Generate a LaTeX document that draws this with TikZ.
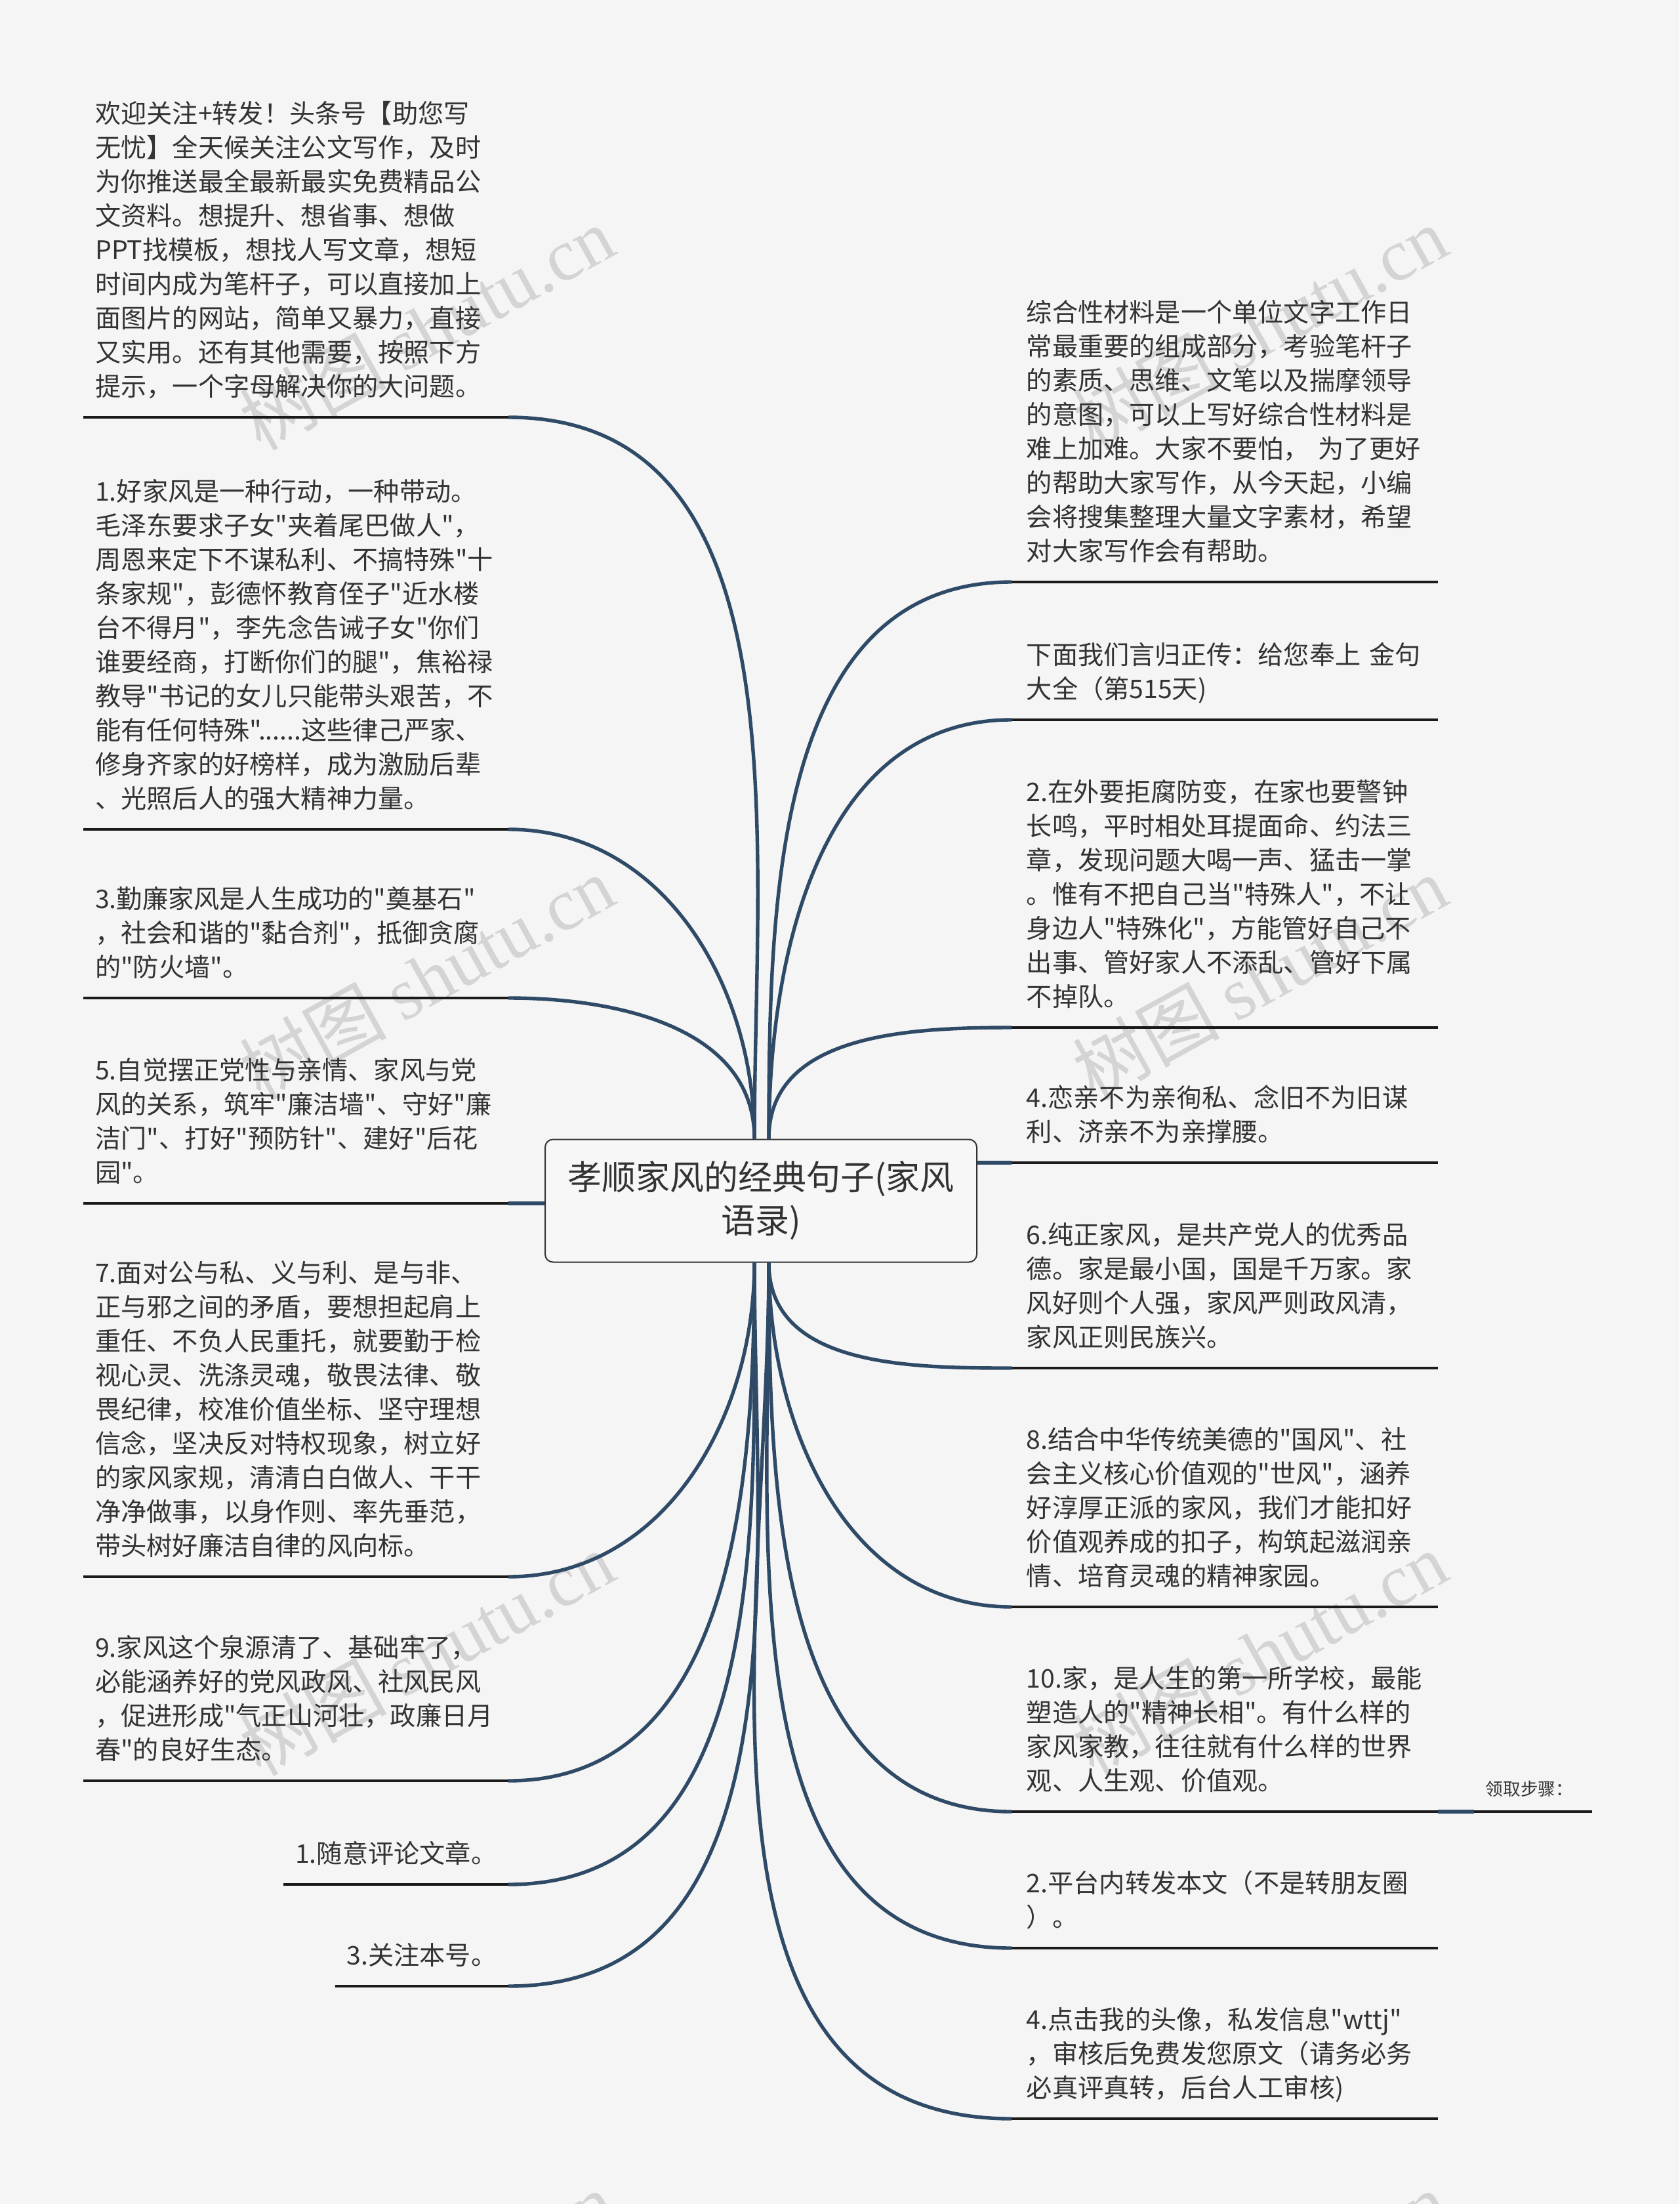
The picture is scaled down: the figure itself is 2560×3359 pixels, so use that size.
\documentclass[tikz,border=0pt]{standalone}
\usepackage{fontspec}
\setmainfont{Noto Sans CJK SC}[Ligatures=TeXOff]
\newfontfamily\wmfont{Liberation Serif}
\usetikzlibrary{calc}
\definecolor{xbg}{HTML}{F5F5F5}
\definecolor{xbox}{HTML}{F7F7F7}
\definecolor{xslate}{HTML}{2E4A66}
\definecolor{xink}{HTML}{333333}
\definecolor{xline}{HTML}{1A1A1A}
\definecolor{xwm}{HTML}{D4D4D4}
\tikzset{
  topic/.style={draw=xink,fill=xbox,rounded corners=3pt,line width=0.5pt,align=center,text=xink,inner sep=0pt,
    font=\fontsize{13pt}{16.5pt}\selectfont,minimum width=164.5pt,minimum height=46.75pt},
  leaf/.style={align=left,text=xink,font=\fontsize{9.8pt}{13pt}\selectfont,inner xsep=4.25pt,inner ysep=6pt,
    execute at end node={\rule[-2pt]{0pt}{2pt}}},
  wideL/.style={text width=153pt,anchor=south east},
  wideR/.style={text width=151pt,inner xsep=5.5pt,anchor=south west},
  lqbox/.style={align=left,text=xink,font=\fontsize{6.65pt}{8pt}\selectfont,inner xsep=4.25pt,inner ysep=4pt,
    text width=36pt,anchor=south west,execute at end node={\rule[-2pt]{0pt}{2pt}}},
  uline/.style={draw=xline,line width=0.9pt},
  branch/.style={draw=xslate,line width=1.35pt},
  wmark/.style={text=xwm,font=\fontsize{28pt}{28pt}\selectfont,rotate=29,inner sep=0pt},
}
\begin{document}
\begin{tikzpicture}[x=0.25pt,y=-0.25pt]
  \useasboundingbox (0,0) rectangle (2560,3359);
  \fill[xbg] (0,0) rectangle (2560,3359);
  % watermark
  \begin{scope}
    \clip (0,0) rectangle (2560,3359);
    \foreach \x in {650,1920} {
      \foreach \y in {500,1490,2520,3495} {
        \node[wmark] (wm-\x-\y) at (\x,\y) {树图 {\wmfont shutu.cn}};
      }
    }
  \end{scope}

  \node[topic] (ctr) at (1160,1830) {孝顺家风的经典句子(家风\\语录)};

  % left side
  \node[leaf,wideL] (l0) at (775,636) {欢迎关注+转发！头条号【助您写\\无忧】全天候关注公文写作，及时\\为你推送最全最新最实免费精品公\\文资料。想提升、想省事、想做\\PPT找模板，想找人写文章，想短\\时间内成为笔杆子，可以直接加上\\面图片的网站，简单又暴力，直接\\又实用。还有其他需要，按照下方\\提示，一个字母解决你的大问题。};
  \node[leaf,wideL] (l1) at (775,1264) {1.好家风是一种行动，一种带动。\\毛泽东要求子女"夹着尾巴做人"，\\周恩来定下不谋私利、不搞特殊"十\\条家规"，彭德怀教育侄子"近水楼\\台不得月"，李先念告诫子女"你们\\谁要经商，打断你们的腿"，焦裕禄\\教导"书记的女儿只能带头艰苦，不\\能有任何特殊"......这些律己严家、\\修身齐家的好榜样，成为激励后辈\\、光照后人的强大精神力量。};
  \node[leaf,wideL] (l2) at (775,1521) {3.勤廉家风是人生成功的"奠基石"\\，社会和谐的"黏合剂"，抵御贪腐\\的"防火墙"。};
  \node[leaf,wideL] (l3) at (775,1834) {5.自觉摆正党性与亲情、家风与党\\风的关系，筑牢"廉洁墙"、守好"廉\\洁门"、打好"预防针"、建好"后花\\园"。};
  \node[leaf,wideL] (l4) at (775,2403) {7.面对公与私、义与利、是与非、\\正与邪之间的矛盾，要想担起肩上\\重任、不负人民重托，就要勤于检\\视心灵、洗涤灵魂，敬畏法律、敬\\畏纪律，校准价值坐标、坚守理想\\信念，坚决反对特权现象，树立好\\的家风家规，清清白白做人、干干\\净净做事，以身作则、率先垂范，\\带头树好廉洁自律的风向标。};
  \node[leaf,wideL] (l5) at (775,2714) {9.家风这个泉源清了、基础牢了，\\必能涵养好的党风政风、社风民风\\，促进形成"气正山河壮，政廉日月\\春"的良好生态。};
  \node[leaf,anchor=south east] (l6) at (775,2872) {1.随意评论文章。};
  \node[leaf,anchor=south east] (l7) at (775,3027) {3.关注本号。};

  % right side
  \node[leaf,wideR] (r0) at (1542,887) {综合性材料是一个单位文字工作日\\常最重要的组成部分，考验笔杆子\\的素质、思维、文笔以及揣摩领导\\的意图，可以上写好综合性材料是\\难上加难。大家不要怕，~为了更好\\的帮助大家写作，从今天起，小编\\会将搜集整理大量文字素材，希望\\对大家写作会有帮助。};
  \node[leaf,wideR] (r1) at (1542,1097) {下面我们言归正传：给您奉上~金句\\大全（第515天)};
  \node[leaf,wideR] (r2) at (1542,1566) {2.在外要拒腐防变，在家也要警钟\\长鸣，平时相处耳提面命、约法三\\章，发现问题大喝一声、猛击一掌\\。惟有不把自己当"特殊人"，不让\\身边人"特殊化"，方能管好自己不\\出事、管好家人不添乱、管好下属\\不掉队。};
  \node[leaf,wideR] (r3) at (1542,1772) {4.恋亲不为亲徇私、念旧不为旧谋\\利、济亲不为亲撑腰。};
  \node[leaf,wideR] (r4) at (1542,2085) {6.纯正家风，是共产党人的优秀品\\德。家是最小国，国是千万家。家\\风好则个人强，家风严则政风清，\\家风正则民族兴。};
  \node[leaf,wideR] (r5) at (1542,2449) {8.结合中华传统美德的"国风"、社\\会主义核心价值观的"世风"，涵养\\好淳厚正派的家风，我们才能扣好\\价值观养成的扣子，构筑起滋润亲\\情、培育灵魂的精神家园。};
  \node[leaf,wideR] (r6) at (1542,2761) {10.家，是人生的第一所学校，最能\\塑造人的"精神长相"。有什么样的\\家风家教，往往就有什么样的世界\\观、人生观、价值观。};
  \node[lqbox] (lq) at (2247,2761) {领取步骤：};
  \node[leaf,wideR] (r7) at (1542,2969) {2.平台内转发本文（不是转朋友圈\\）。};
  \node[leaf,wideR] (r8) at (1542,3229) {4.点击我的头像，私发信息"wttj"\\，审核后免费发您原文（请务必务\\必真评真转，后台人工审核)};

  % underlines
  \foreach \n in {l0,l1,l2,l3,l4,l5,l6,l7,r0,r1,r2,r3,r4,r5,r6,r7,r8,lq}
    \draw[uline] (\n.south west) -- (\n.south east);

  % branches
  \foreach \n in {l0,l1,l2}
    \draw[branch] ([xshift=-2.5pt]ctr.north) to[out=90,in=0] (\n.south east);
  \foreach \n in {r0,r1,r2}
    \draw[branch] ([xshift=3pt]ctr.north) to[out=90,in=180] (\n.south west);
  \foreach \n in {l4,l5,l6,l7}
    \draw[branch] ([xshift=-2.5pt]ctr.south) to[out=-90,in=0] (\n.south east);
  \foreach \n in {r4,r5,r6,r7,r8}
    \draw[branch] ([xshift=3pt]ctr.south) to[out=-90,in=180] (\n.south west);
  \draw[branch] (ctr.west |- l3.south east) -- (l3.south east);
  \draw[branch] (ctr.east |- r3.south west) -- (r3.south west);
  \draw[branch] (r6.south east) -- (lq.south west);
\end{tikzpicture}
\end{document}
